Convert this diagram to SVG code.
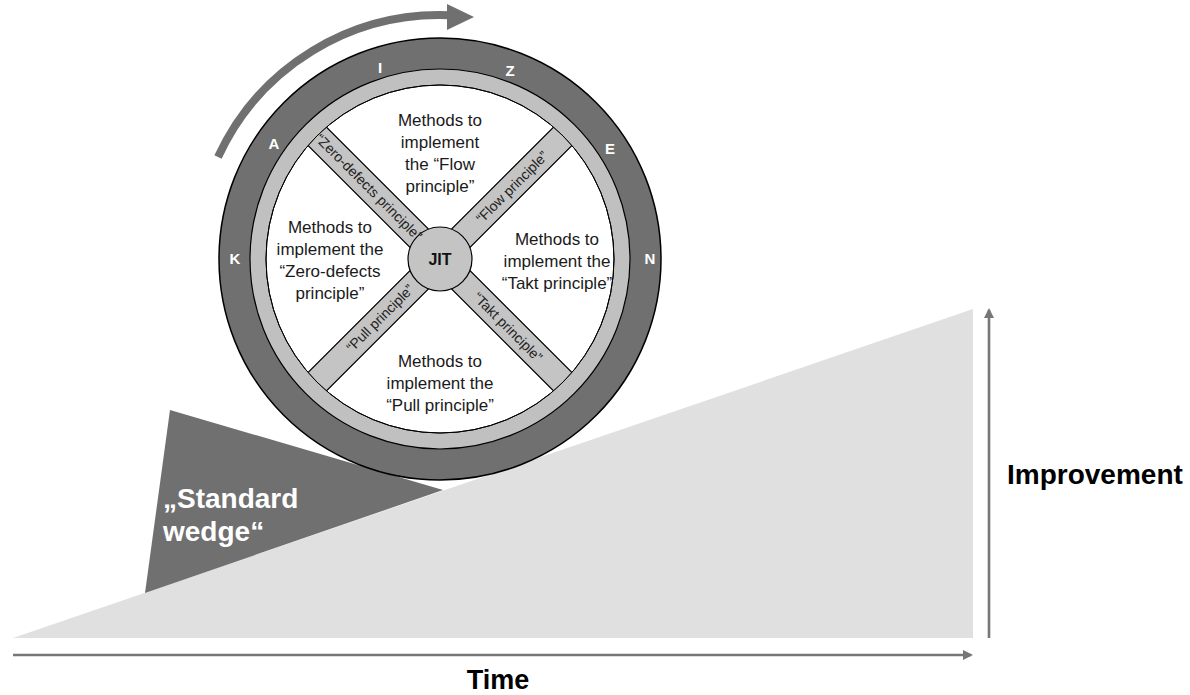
<svg xmlns="http://www.w3.org/2000/svg" width="1190" height="695" viewBox="0 0 1190 695">
<style>
  .m{font-family:"Liberation Sans",Arial,sans-serif;font-size:17px;fill:#1a1a1a;text-anchor:middle}
  .sp{font-family:"Liberation Sans",Arial,sans-serif;font-size:14px;fill:#222;text-anchor:middle;dominant-baseline:central}
  .ring{font-family:"Liberation Sans",Arial,sans-serif;font-size:15px;font-weight:bold;fill:#fff;text-anchor:middle;dominant-baseline:central}
  .ax{font-family:"Liberation Sans",Arial,sans-serif;font-weight:bold;fill:#000}
  .axis{stroke:#777;stroke-width:2.6;fill:none}
</style>
<defs>
  <marker id="ah" markerWidth="10" markerHeight="10" refX="8" refY="5" orient="auto" markerUnits="userSpaceOnUse">
    <path d="M0,0 L10,5 L0,10 Z" fill="#777"/>
  </marker>
  <clipPath id="inner"><circle cx="440" cy="259" r="174"/></clipPath>
</defs>

<g id="ramp">
  <polygon points="13,638 973,309 973,638" fill="#e0e0e0"/>
</g>
<g id="wedge">
  <polygon points="170,410 443,490 145,593" fill="#707070"/>
  <text class="ax" x="163" y="508" font-size="28" style="fill:#fff">„Standard</text>
  <text class="ax" x="163" y="541" font-size="28" style="fill:#fff">wedge“</text>
</g>

<g id="rotation-arrow">
  <path d="M218,157 A244,244 0 0 1 450,15.2" fill="none" stroke="#707070" stroke-width="8"/>
  <polygon points="447,4 474,17 447,30" fill="#707070"/>
</g>

<g id="wheel">
  <circle cx="440" cy="259" r="221" fill="#707070" stroke="#000" stroke-width="1.5"/>
  <circle cx="440" cy="259" r="190" fill="#c0c0c0" stroke="#000" stroke-width="1.2"/>
  <circle cx="440" cy="259" r="174" fill="#fff" stroke="#000" stroke-width="1"/>
  <g clip-path="url(#inner)">
    <rect x="260" y="246" width="360" height="26" fill="#c4c4c4" stroke="#000" stroke-width="1.2" transform="rotate(45 440 259)"/>
    <rect x="260" y="246" width="360" height="26" fill="#c4c4c4" stroke="#000" stroke-width="1.2" transform="rotate(-45 440 259)"/>
  </g>
  <circle cx="440" cy="259" r="174" fill="none" stroke="#000" stroke-width="1"/>
  <text class="ring" x="235" y="258">K</text>
  <text class="ring" x="274" y="143">A</text>
  <text class="ring" x="380" y="67">I</text>
  <text class="ring" x="510" y="70">Z</text>
  <text class="ring" x="610" y="148">E</text>
  <text class="ring" x="650" y="258">N</text>
</g>

<g id="jit">
  <circle cx="440" cy="259" r="32" fill="#c4c4c4" stroke="#000" stroke-width="1.2"/>
  <text x="440" y="265" font-family="Liberation Sans,Arial,sans-serif" font-size="16" font-weight="bold" fill="#111" text-anchor="middle">JIT</text>
</g>

<g id="spoke-labels">
  <text class="sp" transform="translate(369,187) rotate(45)">“Zero-defects principle”</text>
  <text class="sp" transform="translate(512,187) rotate(-45)">“Flow principle”</text>
  <text class="sp" transform="translate(380,318) rotate(-45)">“Pull principle”</text>
  <text class="sp" transform="translate(508,327) rotate(45)">“Takt principle”</text>
</g>

<g id="flow-methods">
  <text class="m" x="440" y="126">Methods to</text>
  <text class="m" x="440" y="148">implement</text>
  <text class="m" x="440" y="170">the “Flow</text>
  <text class="m" x="440" y="192">principle”</text>
</g>
<g id="zero-methods">
  <text class="m" x="330" y="233">Methods to</text>
  <text class="m" x="330" y="255">implement the</text>
  <text class="m" x="330" y="277">“Zero-defects</text>
  <text class="m" x="330" y="299">principle”</text>
</g>
<g id="takt-methods">
  <text class="m" x="557" y="245">Methods to</text>
  <text class="m" x="557" y="267">implement the</text>
  <text class="m" x="557" y="289">“Takt principle”</text>
</g>
<g id="pull-methods">
  <text class="m" x="440" y="367">Methods to</text>
  <text class="m" x="440" y="389">implement the</text>
  <text class="m" x="440" y="411">“Pull principle”</text>
</g>

<g id="connectors">
  <line class="axis" x1="13" y1="655" x2="971" y2="655" marker-end="url(#ah)"/>
  <line class="axis" x1="989" y1="638" x2="989" y2="310" marker-end="url(#ah)"/>
</g>

<g id="labels">
  <text class="ax" x="498" y="689" font-size="27" text-anchor="middle">Time</text>
  <text class="ax" x="1007" y="484" font-size="28">Improvement</text>
</g>
</svg>
